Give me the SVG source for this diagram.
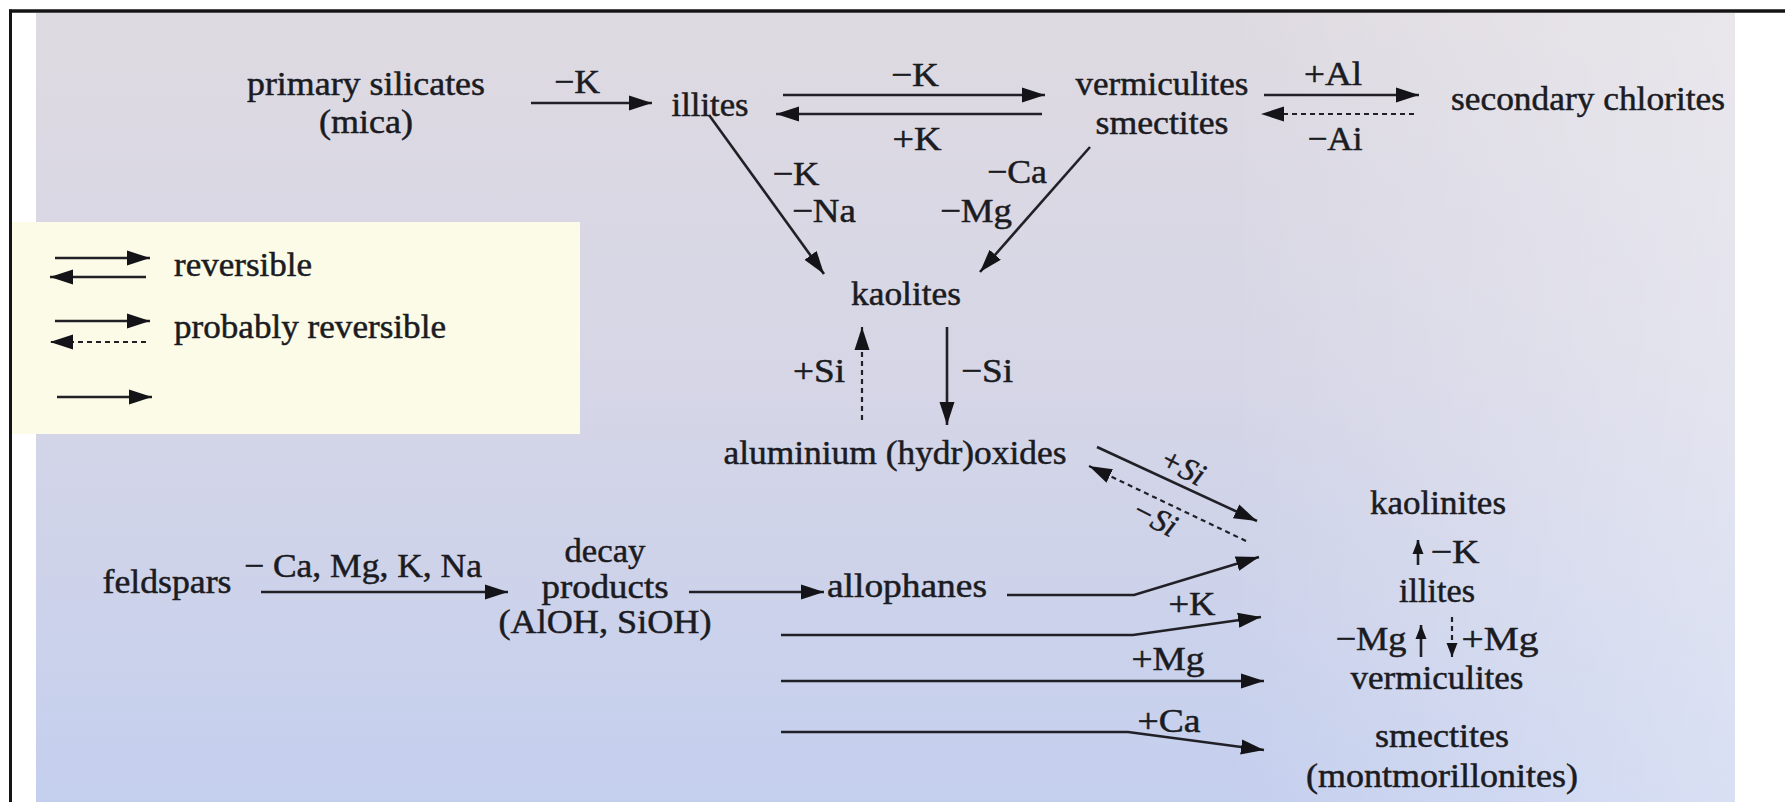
<svg xmlns="http://www.w3.org/2000/svg" width="1785" height="802" viewBox="0 0 1785 802">
  <defs>
    <linearGradient id="bg" x1="0" y1="0" x2="0" y2="1">
      <stop offset="0" stop-color="#dedae1"/>
      <stop offset="0.45" stop-color="#d6d6e6"/>
      <stop offset="1" stop-color="#c4cfee"/>
    </linearGradient>
    <linearGradient id="sheen" x1="0" y1="0" x2="1" y2="0">
      <stop offset="0" stop-color="#ffffff" stop-opacity="0"/>
      <stop offset="0.7" stop-color="#ffffff" stop-opacity="0"/>
      <stop offset="1" stop-color="#ffffff" stop-opacity="0.35"/>
    </linearGradient>
    <marker id="ah" markerUnits="userSpaceOnUse" viewBox="0 0 24 16" markerWidth="24" markerHeight="16" refX="23" refY="8" orient="auto">
      <path d="M0,0.5 L23,8 L0,15.5 Z" fill="#141418"/>
    </marker>
    <marker id="ahs" markerUnits="userSpaceOnUse" viewBox="0 0 14 12" markerWidth="14" markerHeight="12" refX="14" refY="6" orient="auto">
      <path d="M0,0.5 L14,6 L0,11.5 Z" fill="#141418"/>
    </marker>
  </defs>
  <style>
    text { font-family: "Liberation Serif", "Times New Roman", serif; font-size: 34px; fill: #1b1b22; stroke: #1b1b22; stroke-width: 0.5px; }
    .it { font-style: italic; font-size: 32px; }
    .ln { stroke: #202026; stroke-width: 2.6; fill: none; }
    .arr { marker-end: url(#ah); }
    .arrs { marker-end: url(#ahs); }
    .dash { stroke-dasharray: 5 4; stroke-width: 2.2; }
  </style>

  <!-- page -->
  <rect x="0" y="0" width="1785" height="802" fill="#ffffff"/>
  <rect x="36" y="13" width="1699" height="789" fill="url(#bg)"/>
  <rect x="36" y="13" width="1699" height="789" fill="url(#sheen)"/>
  <line x1="9" y1="11" x2="1785" y2="11" stroke="#141414" stroke-width="3.5"/>
  <line x1="10.5" y1="9.5" x2="10.5" y2="802" stroke="#141414" stroke-width="3"/>

  <!-- legend -->
  <g id="legend">
    <rect x="12" y="222" width="568" height="212" fill="#fbfbe7"/>
    <line class="ln arr" x1="55" y1="258" x2="150" y2="258"/>
    <line class="ln arr" x1="146" y1="277" x2="50" y2="277"/>
    <text x="174" y="276" textLength="138" lengthAdjust="spacingAndGlyphs">reversible</text>
    <line class="ln arr" x1="55" y1="321" x2="150" y2="321"/>
    <line class="ln dash arr" x1="146" y1="342" x2="50" y2="342"/>
    <text x="174" y="338" textLength="272" lengthAdjust="spacingAndGlyphs">probably reversible</text>
    <line class="ln arr" x1="57" y1="397" x2="152" y2="397"/>
  </g>

  <!-- nodes -->
  <g id="primary-silicates">
    <text x="366" y="95" text-anchor="middle" textLength="238" lengthAdjust="spacingAndGlyphs">primary silicates</text>
    <text x="366" y="133" text-anchor="middle" textLength="94" lengthAdjust="spacingAndGlyphs">(mica)</text>
  </g>
  <g id="illites-top">
    <text x="710" y="116" text-anchor="middle" textLength="77" lengthAdjust="spacingAndGlyphs">illites</text>
  </g>
  <g id="vermiculites-smectites">
    <text x="1162" y="95" text-anchor="middle" textLength="173" lengthAdjust="spacingAndGlyphs">vermiculites</text>
    <text x="1162" y="134" text-anchor="middle" textLength="133" lengthAdjust="spacingAndGlyphs">smectites</text>
  </g>
  <g id="secondary-chlorites">
    <text x="1588" y="110" text-anchor="middle" textLength="274" lengthAdjust="spacingAndGlyphs">secondary chlorites</text>
  </g>
  <g id="kaolites">
    <text x="906" y="305" text-anchor="middle" textLength="110" lengthAdjust="spacingAndGlyphs">kaolites</text>
  </g>
  <g id="aluminium-hydroxides">
    <text x="895" y="464" text-anchor="middle" textLength="343" lengthAdjust="spacingAndGlyphs">aluminium (hydr)oxides</text>
  </g>
  <g id="feldspars">
    <text x="167" y="593" text-anchor="middle" textLength="129" lengthAdjust="spacingAndGlyphs">feldspars</text>
  </g>
  <g id="decay-products">
    <text x="605" y="562" text-anchor="middle" textLength="81" lengthAdjust="spacingAndGlyphs">decay</text>
    <text x="605" y="598" text-anchor="middle" textLength="127" lengthAdjust="spacingAndGlyphs">products</text>
    <text x="605" y="633" text-anchor="middle" textLength="213" lengthAdjust="spacingAndGlyphs">(AlOH, SiOH)</text>
  </g>
  <g id="allophanes">
    <text x="907" y="597" text-anchor="middle" textLength="160" lengthAdjust="spacingAndGlyphs">allophanes</text>
  </g>
  <g id="clay-series">
    <text x="1438" y="514" text-anchor="middle" textLength="136" lengthAdjust="spacingAndGlyphs">kaolinites</text>
    <text x="1437" y="602" text-anchor="middle" textLength="76" lengthAdjust="spacingAndGlyphs">illites</text>
    <text x="1437" y="689" text-anchor="middle" textLength="173" lengthAdjust="spacingAndGlyphs">vermiculites</text>
    <text x="1442" y="747" text-anchor="middle" textLength="134" lengthAdjust="spacingAndGlyphs">smectites</text>
    <text x="1442" y="787" text-anchor="middle" textLength="272" lengthAdjust="spacingAndGlyphs">(montmorillonites)</text>
  </g>

  <!-- connectors -->
  <g id="connectors">
    <line class="ln arr" x1="531" y1="103" x2="652" y2="103"/>
    <line class="ln arr" x1="783" y1="95" x2="1045" y2="95"/>
    <line class="ln arr" x1="1042" y1="114" x2="776" y2="114"/>
    <line class="ln arr" x1="1264" y1="95" x2="1419" y2="95"/>
    <line class="ln dash arr" x1="1414" y1="114" x2="1261" y2="114"/>
    <line class="ln arr" x1="709" y1="115" x2="824" y2="274"/>
    <line class="ln arr" x1="1090" y1="147" x2="980" y2="272"/>
    <line class="ln dash arr" x1="862" y1="420" x2="862" y2="327"/>
    <line class="ln arr" x1="947" y1="327" x2="947" y2="425"/>
    <line class="ln arr" x1="1097" y1="447" x2="1257" y2="521"/>
    <line class="ln dash arr" x1="1246" y1="541" x2="1089" y2="466"/>
    <line class="ln arr" x1="261" y1="592" x2="508" y2="592"/>
    <line class="ln arr" x1="689" y1="592" x2="824" y2="592"/>
    <polyline class="ln arr" points="1007,595 1134,595 1259,557"/>
    <polyline class="ln arr" points="781,635 1133,635 1261,617"/>
    <line class="ln arr" x1="781" y1="681" x2="1264" y2="681"/>
    <polyline class="ln arr" points="781,732 1128,732 1264,750"/>
    <line class="ln arrs" x1="1418" y1="565" x2="1418" y2="540"/>
    <line class="ln arrs" x1="1421" y1="657" x2="1421" y2="625"/>
    <line class="ln dash arrs" x1="1452" y1="617" x2="1452" y2="657"/>
  </g>

  <!-- connector labels -->
  <g id="labels">
    <text x="577" y="93" text-anchor="middle" textLength="46" lengthAdjust="spacingAndGlyphs">−K</text>
    <text x="915" y="86" text-anchor="middle" textLength="48" lengthAdjust="spacingAndGlyphs">−K</text>
    <text x="917" y="150" text-anchor="middle" textLength="49" lengthAdjust="spacingAndGlyphs">+K</text>
    <text x="1333" y="85" text-anchor="middle" textLength="58" lengthAdjust="spacingAndGlyphs">+Al</text>
    <text x="1335" y="150" text-anchor="middle" textLength="55" lengthAdjust="spacingAndGlyphs">−Ai</text>
    <text x="796" y="185" text-anchor="middle" textLength="47" lengthAdjust="spacingAndGlyphs">−K</text>
    <text x="824" y="222" text-anchor="middle" textLength="64" lengthAdjust="spacingAndGlyphs">−Na</text>
    <text x="1017" y="183" text-anchor="middle" textLength="60" lengthAdjust="spacingAndGlyphs">−Ca</text>
    <text x="976" y="222" text-anchor="middle" textLength="72" lengthAdjust="spacingAndGlyphs">−Mg</text>
    <text x="819" y="382" text-anchor="middle" textLength="52" lengthAdjust="spacingAndGlyphs">+Si</text>
    <text x="987" y="382" text-anchor="middle" textLength="52" lengthAdjust="spacingAndGlyphs">−Si</text>
    <text class="it" x="0" y="0" text-anchor="middle" transform="translate(1178,476) rotate(27)">+Si</text>
    <text class="it" x="0" y="0" text-anchor="middle" transform="translate(1150,527) rotate(27)">−Si</text>
    <text x="363" y="577" text-anchor="middle" textLength="238" lengthAdjust="spacingAndGlyphs">− Ca, Mg, K, Na</text>
    <text x="1192" y="615" text-anchor="middle" textLength="47" lengthAdjust="spacingAndGlyphs">+K</text>
    <text x="1168" y="670" text-anchor="middle" textLength="73" lengthAdjust="spacingAndGlyphs">+Mg</text>
    <text x="1169" y="732" text-anchor="middle" textLength="63" lengthAdjust="spacingAndGlyphs">+Ca</text>
    <text x="1455" y="563" text-anchor="middle" textLength="49" lengthAdjust="spacingAndGlyphs">−K</text>
    <text x="1371" y="650" text-anchor="middle" textLength="71" lengthAdjust="spacingAndGlyphs">−Mg</text>
    <text x="1500" y="650" text-anchor="middle" textLength="77" lengthAdjust="spacingAndGlyphs">+Mg</text>
  </g>
</svg>
